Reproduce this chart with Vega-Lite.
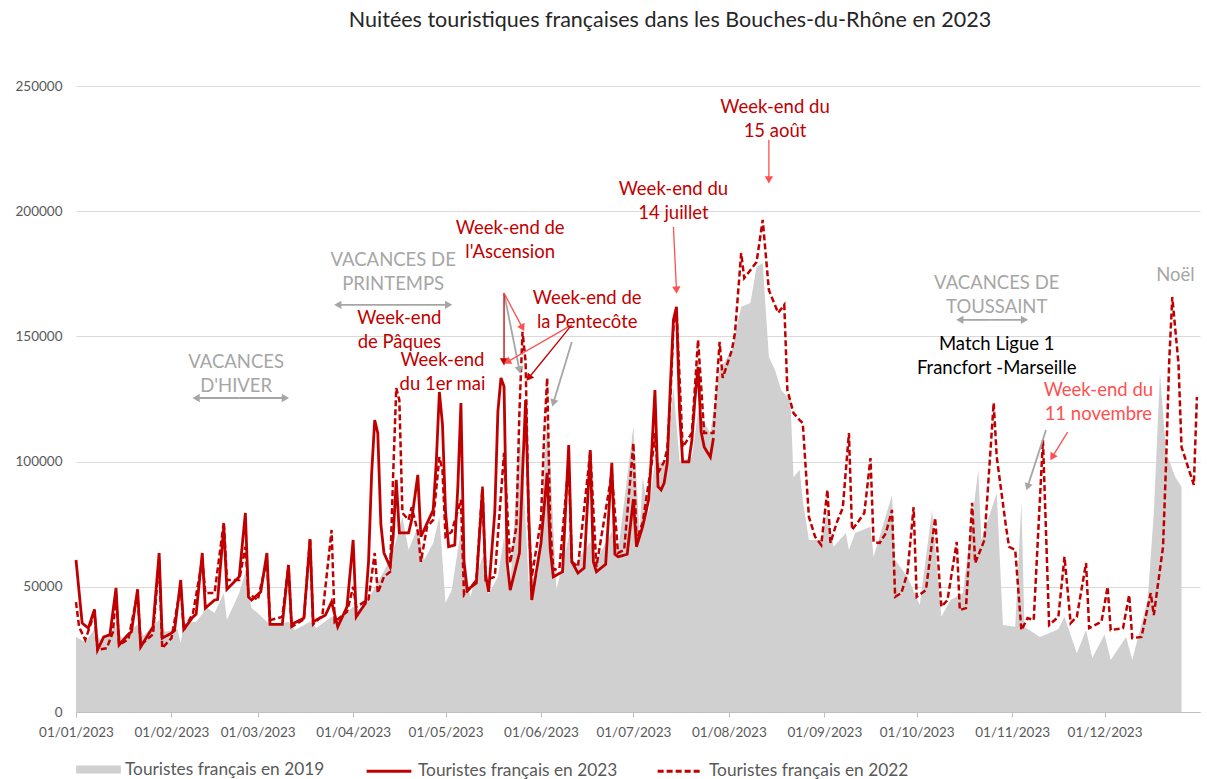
{
  "$schema": "https://vega.github.io/schema/vega-lite/v6.json",
  "width": 1124,
  "height": 626,
  "autosize": {"type": "none"},
  "padding": {"left": 76, "top": 86, "right": 7, "bottom": 67},
  "title": {"text": "Nuitées touristiques françaises dans les Bouches-du-Rhône en 2023", "fontSize": 21.5, "fontWeight": "normal", "color": "#262626", "offset": 48, "dx": 32, "anchor": "middle", "font": "Lato"},
  "datasets": {
    "s2023": [
      {"date":"2023-01-01","value":60700},{"date":"2023-01-03","value":35500},{"date":"2023-01-05","value":33500},{"date":"2023-01-07","value":41000},{"date":"2023-01-08","value":24800},{"date":"2023-01-10","value":30000},{"date":"2023-01-12","value":30800},{"date":"2023-01-14","value":49500},{"date":"2023-01-15","value":26800},{"date":"2023-01-18","value":31000},{"date":"2023-01-19","value":32000},{"date":"2023-01-21","value":49000},{"date":"2023-01-22","value":26000},{"date":"2023-01-26","value":34000},{"date":"2023-01-28","value":63500},{"date":"2023-01-29","value":29500},
      {"date":"2023-02-01","value":31500},{"date":"2023-02-02","value":32500},{"date":"2023-02-04","value":52700},{"date":"2023-02-05","value":33000},{"date":"2023-02-08","value":38000},{"date":"2023-02-09","value":39000},{"date":"2023-02-11","value":63500},{"date":"2023-02-12","value":41500},{"date":"2023-02-15","value":44700},{"date":"2023-02-16","value":45000},{"date":"2023-02-18","value":74000},{"date":"2023-02-19","value":49000},{"date":"2023-02-23","value":54000},{"date":"2023-02-25","value":79500},{"date":"2023-02-26","value":46000},{"date":"2023-02-27","value":44700},
      {"date":"2023-03-02","value":48000},{"date":"2023-03-04","value":63500},{"date":"2023-03-05","value":35000},{"date":"2023-03-09","value":35000},{"date":"2023-03-11","value":58700},{"date":"2023-03-12","value":35000},{"date":"2023-03-16","value":37500},{"date":"2023-03-18","value":69000},{"date":"2023-03-19","value":36000},{"date":"2023-03-23","value":38700},{"date":"2023-03-25","value":44000},{"date":"2023-03-27","value":34000},{"date":"2023-03-30","value":42000},
      {"date":"2023-04-01","value":68700},{"date":"2023-04-02","value":38000},{"date":"2023-04-05","value":43500},{"date":"2023-04-06","value":60000},{"date":"2023-04-07","value":95000},{"date":"2023-04-08","value":116600},{"date":"2023-04-09","value":111400},{"date":"2023-04-10","value":75000},{"date":"2023-04-11","value":63500},{"date":"2023-04-13","value":58000},{"date":"2023-04-14","value":70000},{"date":"2023-04-15","value":92700},{"date":"2023-04-16","value":71500},{"date":"2023-04-19","value":71500},{"date":"2023-04-20","value":76700},{"date":"2023-04-22","value":94700},{"date":"2023-04-23","value":70000},{"date":"2023-04-27","value":80700},{"date":"2023-04-28","value":100000},{"date":"2023-04-29","value":127800},{"date":"2023-04-30","value":115000},
      {"date":"2023-05-01","value":80000},{"date":"2023-05-02","value":66000},{"date":"2023-05-04","value":66700},{"date":"2023-05-05","value":90000},{"date":"2023-05-06","value":123400},{"date":"2023-05-07","value":60000},{"date":"2023-05-08","value":48700},{"date":"2023-05-11","value":51500},{"date":"2023-05-13","value":89000},{"date":"2023-05-14","value":55000},{"date":"2023-05-15","value":48000},{"date":"2023-05-17","value":80000},{"date":"2023-05-18","value":120000},{"date":"2023-05-19","value":133400},{"date":"2023-05-20","value":130000},{"date":"2023-05-21","value":60000},{"date":"2023-05-22","value":48700},{"date":"2023-05-25","value":63500},{"date":"2023-05-26","value":95000},{"date":"2023-05-27","value":124600},{"date":"2023-05-28","value":80000},{"date":"2023-05-29","value":44700},
      {"date":"2023-06-01","value":67500},{"date":"2023-06-03","value":95500},{"date":"2023-06-04","value":65000},{"date":"2023-06-05","value":54000},{"date":"2023-06-08","value":56000},{"date":"2023-06-10","value":106600},{"date":"2023-06-11","value":60000},{"date":"2023-06-13","value":55500},{"date":"2023-06-15","value":57500},{"date":"2023-06-17","value":104600},{"date":"2023-06-18","value":60000},{"date":"2023-06-19","value":56000},{"date":"2023-06-22","value":59000},{"date":"2023-06-24","value":99500},{"date":"2023-06-25","value":63000},{"date":"2023-06-26","value":62000},{"date":"2023-06-29","value":63000},
      {"date":"2023-07-01","value":85000},{"date":"2023-07-02","value":66000},{"date":"2023-07-04","value":74000},{"date":"2023-07-06","value":85000},{"date":"2023-07-07","value":105000},{"date":"2023-07-08","value":128600},{"date":"2023-07-09","value":90000},{"date":"2023-07-10","value":88700},{"date":"2023-07-11","value":91500},{"date":"2023-07-12","value":99500},{"date":"2023-07-13","value":130000},{"date":"2023-07-14","value":156600},{"date":"2023-07-15","value":161800},{"date":"2023-07-16","value":120000},{"date":"2023-07-17","value":99900},{"date":"2023-07-19","value":99900},{"date":"2023-07-20","value":108600},{"date":"2023-07-21","value":125000},{"date":"2023-07-22","value":137800},{"date":"2023-07-23","value":112000},{"date":"2023-07-24","value":105800},{"date":"2023-07-26","value":101800},{"date":"2023-07-27","value":109400}
    ],
    "s2022": [
      {"date":"2023-01-01","value":43900},{"date":"2023-01-02","value":34000},{"date":"2023-01-04","value":28800},{"date":"2023-01-07","value":39500},{"date":"2023-01-08","value":24800},{"date":"2023-01-11","value":25500},{"date":"2023-01-13","value":32000},{"date":"2023-01-14","value":47500},{"date":"2023-01-15","value":26800},{"date":"2023-01-18","value":29000},{"date":"2023-01-21","value":47500},{"date":"2023-01-22","value":26800},{"date":"2023-01-26","value":31000},{"date":"2023-01-28","value":60700},{"date":"2023-01-29","value":25500},
      {"date":"2023-02-01","value":29500},{"date":"2023-02-04","value":50000},{"date":"2023-02-05","value":32700},{"date":"2023-02-08","value":39500},{"date":"2023-02-11","value":60700},{"date":"2023-02-12","value":47500},{"date":"2023-02-15","value":47500},{"date":"2023-02-18","value":75900},{"date":"2023-02-19","value":52700},{"date":"2023-02-23","value":52700},{"date":"2023-02-25","value":66000},{"date":"2023-02-26","value":47500},
      {"date":"2023-03-01","value":44700},{"date":"2023-03-04","value":60700},{"date":"2023-03-05","value":36700},{"date":"2023-03-09","value":38000},{"date":"2023-03-11","value":58700},{"date":"2023-03-12","value":34000},{"date":"2023-03-16","value":37000},{"date":"2023-03-18","value":69500},{"date":"2023-03-19","value":35000},{"date":"2023-03-22","value":38500},{"date":"2023-03-25","value":72700},{"date":"2023-03-26","value":36000},{"date":"2023-03-30","value":40000},
      {"date":"2023-04-01","value":50000},{"date":"2023-04-02","value":42000},{"date":"2023-04-06","value":45000},{"date":"2023-04-08","value":63500},{"date":"2023-04-09","value":47500},{"date":"2023-04-11","value":54000},{"date":"2023-04-13","value":56000},{"date":"2023-04-14","value":95000},{"date":"2023-04-15","value":129400},{"date":"2023-04-16","value":124600},{"date":"2023-04-17","value":79500},{"date":"2023-04-19","value":76700},{"date":"2023-04-20","value":81800},{"date":"2023-04-22","value":72000},{"date":"2023-04-23","value":60000},{"date":"2023-04-25","value":74000},{"date":"2023-04-27","value":76700},{"date":"2023-04-29","value":101800},{"date":"2023-04-30","value":96700},
      {"date":"2023-05-01","value":70000},{"date":"2023-05-03","value":72000},{"date":"2023-05-06","value":84700},{"date":"2023-05-07","value":46700},{"date":"2023-05-09","value":49500},{"date":"2023-05-11","value":52700},{"date":"2023-05-13","value":90000},{"date":"2023-05-14","value":52700},{"date":"2023-05-17","value":54000},{"date":"2023-05-20","value":103500},{"date":"2023-05-22","value":59500},{"date":"2023-05-24","value":74000},{"date":"2023-05-25","value":120000},{"date":"2023-05-26","value":151800},{"date":"2023-05-27","value":140000},{"date":"2023-05-28","value":75000},{"date":"2023-05-29","value":54000},
      {"date":"2023-06-01","value":76700},{"date":"2023-06-02","value":110000},{"date":"2023-06-03","value":133400},{"date":"2023-06-04","value":75000},{"date":"2023-06-05","value":56700},{"date":"2023-06-07","value":57500},{"date":"2023-06-10","value":100000},{"date":"2023-06-11","value":60000},{"date":"2023-06-13","value":58000},{"date":"2023-06-17","value":104000},{"date":"2023-06-19","value":58000},{"date":"2023-06-24","value":95500},{"date":"2023-06-26","value":63500},{"date":"2023-06-28","value":64700},
      {"date":"2023-07-01","value":107400},{"date":"2023-07-02","value":68700},{"date":"2023-07-04","value":75500},{"date":"2023-07-07","value":100000},{"date":"2023-07-08","value":111400},{"date":"2023-07-09","value":95500},{"date":"2023-07-11","value":100000},{"date":"2023-07-12","value":105000},{"date":"2023-07-13","value":125000},{"date":"2023-07-14","value":153800},{"date":"2023-07-15","value":160600},{"date":"2023-07-17","value":105800},{"date":"2023-07-20","value":111400},{"date":"2023-07-22","value":148600},{"date":"2023-07-24","value":111400},{"date":"2023-07-27","value":111400},{"date":"2023-07-29","value":147800},{"date":"2023-07-30","value":133400},
      {"date":"2023-08-02","value":144600},{"date":"2023-08-03","value":151400},{"date":"2023-08-05","value":183300},{"date":"2023-08-06","value":173300},{"date":"2023-08-10","value":179700},{"date":"2023-08-12","value":196500},{"date":"2023-08-14","value":168500},{"date":"2023-08-17","value":159400},{"date":"2023-08-19","value":162600},{"date":"2023-08-20","value":128600},{"date":"2023-08-22","value":119400},{"date":"2023-08-24","value":116600},{"date":"2023-08-25","value":115400},{"date":"2023-08-27","value":77900},{"date":"2023-08-29","value":70000},{"date":"2023-08-31","value":66700},
      {"date":"2023-09-02","value":88700},{"date":"2023-09-03","value":67500},{"date":"2023-09-05","value":75500},{"date":"2023-09-07","value":81500},{"date":"2023-09-09","value":111400},{"date":"2023-09-10","value":72700},{"date":"2023-09-12","value":76000},{"date":"2023-09-14","value":79500},{"date":"2023-09-16","value":101400},{"date":"2023-09-17","value":67900},{"date":"2023-09-19","value":67500},{"date":"2023-09-21","value":71500},{"date":"2023-09-23","value":80700},{"date":"2023-09-24","value":46000},{"date":"2023-09-26","value":47500},{"date":"2023-09-28","value":55500},{"date":"2023-09-30","value":81800},
      {"date":"2023-10-01","value":46000},{"date":"2023-10-04","value":48700},{"date":"2023-10-07","value":77500},{"date":"2023-10-09","value":42000},{"date":"2023-10-11","value":44700},{"date":"2023-10-14","value":67900},{"date":"2023-10-15","value":40700},{"date":"2023-10-17","value":41500},{"date":"2023-10-19","value":83500},{"date":"2023-10-20","value":59500},{"date":"2023-10-23","value":68700},{"date":"2023-10-26","value":123400},{"date":"2023-10-27","value":101800},{"date":"2023-10-30","value":74000},{"date":"2023-10-31","value":66000},
      {"date":"2023-11-02","value":64700},{"date":"2023-11-04","value":32700},{"date":"2023-11-06","value":37500},{"date":"2023-11-08","value":36700},{"date":"2023-11-11","value":108600},{"date":"2023-11-13","value":34700},{"date":"2023-11-16","value":38000},{"date":"2023-11-18","value":62000},{"date":"2023-11-20","value":35500},{"date":"2023-11-22","value":38000},{"date":"2023-11-25","value":59500},{"date":"2023-11-26","value":33500},{"date":"2023-11-30","value":36000},
      {"date":"2023-12-02","value":50000},{"date":"2023-12-03","value":32700},{"date":"2023-12-07","value":33500},{"date":"2023-12-09","value":46700},{"date":"2023-12-10","value":29500},{"date":"2023-12-13","value":30000},{"date":"2023-12-16","value":47500},{"date":"2023-12-17","value":38700},{"date":"2023-12-20","value":66000},{"date":"2023-12-21","value":100000},{"date":"2023-12-22","value":140000},{"date":"2023-12-23","value":165700},{"date":"2023-12-25","value":139400},{"date":"2023-12-26","value":105800},{"date":"2023-12-30","value":90700},{"date":"2023-12-31","value":125800}
    ],
    "s2019": [
      {"date":"2023-01-01","value":30000},{"date":"2023-01-04","value":28000},{"date":"2023-01-07","value":33000},{"date":"2023-01-09","value":28500},{"date":"2023-01-14","value":34000},{"date":"2023-01-16","value":29500},{"date":"2023-01-21","value":35000},{"date":"2023-01-23","value":30500},{"date":"2023-01-28","value":37000},{"date":"2023-01-30","value":32000},
      {"date":"2023-02-03","value":33000},{"date":"2023-02-04","value":27500},{"date":"2023-02-05","value":35500},{"date":"2023-02-09","value":36000},{"date":"2023-02-11","value":39000},{"date":"2023-02-12","value":42000},{"date":"2023-02-15","value":39500},{"date":"2023-02-18","value":47500},{"date":"2023-02-19","value":36700},{"date":"2023-02-23","value":47500},{"date":"2023-02-25","value":56000},{"date":"2023-02-27","value":41500},
      {"date":"2023-03-01","value":39500},{"date":"2023-03-04","value":36000},{"date":"2023-03-06","value":34700},{"date":"2023-03-11","value":36000},{"date":"2023-03-13","value":32700},{"date":"2023-03-18","value":36000},{"date":"2023-03-20","value":33500},{"date":"2023-03-25","value":38000},{"date":"2023-03-27","value":36700},
      {"date":"2023-04-01","value":42000},{"date":"2023-04-03","value":40700},{"date":"2023-04-07","value":47500},{"date":"2023-04-13","value":60700},{"date":"2023-04-15","value":68700},{"date":"2023-04-17","value":77900},{"date":"2023-04-19","value":64700},{"date":"2023-04-22","value":74000},{"date":"2023-04-24","value":60700},{"date":"2023-04-27","value":67500},{"date":"2023-04-29","value":77900},
      {"date":"2023-05-01","value":43500},{"date":"2023-05-03","value":48700},{"date":"2023-05-06","value":72700},{"date":"2023-05-09","value":46000},{"date":"2023-05-13","value":62000},{"date":"2023-05-15","value":47000},{"date":"2023-05-18","value":54000},{"date":"2023-05-20","value":70000},{"date":"2023-05-22","value":50000},{"date":"2023-05-25","value":110000},{"date":"2023-05-26","value":100000},{"date":"2023-05-28","value":52000},{"date":"2023-05-31","value":55000},
      {"date":"2023-06-03","value":118000},{"date":"2023-06-04","value":100000},{"date":"2023-06-06","value":48700},{"date":"2023-06-10","value":70000},{"date":"2023-06-12","value":58000},{"date":"2023-06-13","value":60700},{"date":"2023-06-17","value":68000},{"date":"2023-06-19","value":60700},{"date":"2023-06-24","value":72000},{"date":"2023-06-26","value":64000},
      {"date":"2023-07-01","value":114000},{"date":"2023-07-03","value":71500},{"date":"2023-07-04","value":93800},{"date":"2023-07-06","value":79500},{"date":"2023-07-08","value":100600},{"date":"2023-07-10","value":99500},{"date":"2023-07-12","value":100600},{"date":"2023-07-14","value":130000},{"date":"2023-07-16","value":100000},{"date":"2023-07-20","value":101800},{"date":"2023-07-22","value":120000},{"date":"2023-07-26","value":111400},{"date":"2023-07-29","value":136600},
      {"date":"2023-08-02","value":144600},{"date":"2023-08-05","value":161800},{"date":"2023-08-08","value":163300},{"date":"2023-08-10","value":177700},{"date":"2023-08-12","value":179300},{"date":"2023-08-14","value":141800},{"date":"2023-08-16","value":136600},{"date":"2023-08-18","value":128600},{"date":"2023-08-21","value":124600},{"date":"2023-08-22","value":93800},{"date":"2023-08-24","value":96700},{"date":"2023-08-25","value":84700},{"date":"2023-08-27","value":68700},{"date":"2023-08-31","value":68700},
      {"date":"2023-09-02","value":80000},{"date":"2023-09-04","value":66000},{"date":"2023-09-08","value":71500},{"date":"2023-09-09","value":64700},{"date":"2023-09-11","value":71500},{"date":"2023-09-16","value":74000},{"date":"2023-09-17","value":62000},{"date":"2023-09-23","value":86700},{"date":"2023-09-24","value":60700},{"date":"2023-09-28","value":54000},
      {"date":"2023-10-02","value":42700},{"date":"2023-10-06","value":80700},{"date":"2023-10-09","value":38000},{"date":"2023-10-12","value":44700},{"date":"2023-10-16","value":47500},{"date":"2023-10-21","value":96700},{"date":"2023-10-22","value":68700},{"date":"2023-10-27","value":87500},{"date":"2023-10-29","value":34700},
      {"date":"2023-11-02","value":34000},{"date":"2023-11-04","value":83900},{"date":"2023-11-05","value":34000},{"date":"2023-11-10","value":30000},{"date":"2023-11-16","value":33000},{"date":"2023-11-18","value":38000},{"date":"2023-11-22","value":23500},{"date":"2023-11-25","value":32700},{"date":"2023-11-27","value":21600},
      {"date":"2023-12-01","value":31000},{"date":"2023-12-03","value":20800},{"date":"2023-12-08","value":30000},{"date":"2023-12-10","value":20800},{"date":"2023-12-15","value":44700},{"date":"2023-12-17","value":79500},{"date":"2023-12-19","value":135400},{"date":"2023-12-21","value":103500},{"date":"2023-12-24","value":93800},{"date":"2023-12-26","value":90000}
    ],
    "notes": [
      {"date":"2023-02-22","value":139800,"text":"VACANCES\nD'HIVER","kind":"gris"},
      {"date":"2023-04-14","value":180500,"text":"VACANCES DE\nPRINTEMPS","kind":"gris"},
      {"date":"2023-04-16","value":157400,"text":"Week-end\nde Pâques","kind":"rouge"},
      {"date":"2023-04-30","value":140600,"text":"Week-end\ndu 1er mai","kind":"rouge"},
      {"date":"2023-05-22","value":193300,"text":"Week-end de\nl'Ascension","kind":"rouge"},
      {"date":"2023-06-16","value":165400,"text":"Week-end de\nla Pentecôte","kind":"rouge"},
      {"date":"2023-07-14","value":208900,"text":"Week-end du\n14 juillet","kind":"rouge"},
      {"date":"2023-08-16","value":241600,"text":"Week-end du\n15 août","kind":"rouge"},
      {"date":"2023-10-27","value":171300,"text":"VACANCES DE\nTOUSSAINT","kind":"gris"},
      {"date":"2023-10-27","value":147000,"text":"Match Ligue 1\nFrancfort -Marseille","kind":"noir"},
      {"date":"2023-11-29","value":128600,"text":"Week-end du\n11 novembre","kind":"rose"},
      {"date":"2023-12-24","value":174500,"text":"Noël","kind":"gris"}
    ],
    "arrows": [
      {"d0":"2023-02-23","v0":125400,"d1":"2023-02-09","v1":125400,"kind":"gris"},
      {"d0":"2023-02-23","v0":125400,"d1":"2023-03-10","v1":125400,"kind":"gris"},
      {"d0":"2023-04-14","v0":162600,"d1":"2023-03-27","v1":162600,"kind":"gris"},
      {"d0":"2023-04-14","v0":162600,"d1":"2023-05-02","v1":162600,"kind":"gris"},
      {"d0":"2023-10-25","v0":156600,"d1":"2023-10-15","v1":156600,"kind":"gris"},
      {"d0":"2023-10-25","v0":156600,"d1":"2023-11-05","v1":156600,"kind":"gris"},
      {"d0":"2023-07-14","v0":193700,"d1":"2023-07-15","v1":168500,"kind":"rose"},
      {"d0":"2023-08-14","v0":228500,"d1":"2023-08-14","v1":212500,"kind":"rose"},
      {"d0":"2023-05-20","v0":167300,"d1":"2023-05-20","v1":139800,"kind":"rouge"},
      {"d0":"2023-05-20","v0":167300,"d1":"2023-05-26","v1":153400,"kind":"rose"},
      {"d0":"2023-05-20","v0":167300,"d1":"2023-05-25","v1":136600,"kind":"gris"},
      {"d0":"2023-06-11","v0":154600,"d1":"2023-05-21","v1":139800,"kind":"rose"},
      {"d0":"2023-06-11","v0":154600,"d1":"2023-05-28","v1":133400,"kind":"rouge"},
      {"d0":"2023-06-11","v0":147800,"d1":"2023-06-05","v1":123400,"kind":"gris"},
      {"d0":"2023-11-19","v0":111800,"d1":"2023-11-14","v1":101800,"kind":"rose"},
      {"d0":"2023-11-12","v0":112600,"d1":"2023-11-06","v1":89900,"kind":"gris"}
    ]
  },
  "layer": [
    {
      "data": {"name": "s2019"},
      "mark": {"type": "area", "opacity": 1},
      "encoding": {
        "x": {"field": "date", "type": "temporal", "title": null,
          "scale": {"type": "utc", "domain": [{"year": 2023, "month": 1, "date": 1, "utc": true}, {"year": 2024, "month": 1, "date": 1, "utc": true}]},
          "axis": {"format": "%d/%m/%Y", "values": [
            {"year": 2023, "month": 1, "date": 1, "utc": true}, {"year": 2023, "month": 2, "date": 1, "utc": true}, {"year": 2023, "month": 3, "date": 1, "utc": true},
            {"year": 2023, "month": 4, "date": 1, "utc": true}, {"year": 2023, "month": 5, "date": 1, "utc": true}, {"year": 2023, "month": 6, "date": 1, "utc": true},
            {"year": 2023, "month": 7, "date": 1, "utc": true}, {"year": 2023, "month": 8, "date": 1, "utc": true}, {"year": 2023, "month": 9, "date": 1, "utc": true},
            {"year": 2023, "month": 10, "date": 1, "utc": true}, {"year": 2023, "month": 11, "date": 1, "utc": true}, {"year": 2023, "month": 12, "date": 1, "utc": true}]}},
        "y": {"field": "value", "type": "quantitative", "title": null,
          "scale": {"domain": [0, 250000], "nice": false},
          "axis": {"values": [0, 50000, 100000, 150000, 200000, 250000], "format": "d"}},
        "fill": {"datum": "Touristes français en 2019", "type": "nominal",
          "scale": {"domain": ["Touristes français en 2019"], "range": ["#d0d0d0"]},
          "legend": {
            "orient": "bottom", "direction": "horizontal", "title": null,
            "labelFontSize": 17.3, "labelColor": "#595959", "labelFont": "Lato", "labelLimit": 400,
            "symbolType": "M-1,-0.18H1V0.18H-1Z", "symbolSize": 2000, "symbolStrokeWidth": 0, "labelOffset": 4, "offset": 8, "padding": 0}}
      }
    },
    {
      "data": {"name": "s2022"},
      "mark": {"type": "line", "strokeWidth": 2.5},
      "encoding": {
        "x": {"field": "date", "type": "temporal", "title": null},
        "y": {"field": "value", "type": "quantitative", "title": null},
        "stroke": {"datum": "Touristes français en 2022", "type": "nominal",
          "scale": {"domain": ["Touristes français en 2023", "Touristes français en 2022"], "range": ["#c00000", "#c00000"]},
          "legend": {
            "orient": "bottom", "direction": "horizontal", "title": null,
            "labelFontSize": 17.3, "labelColor": "#595959", "labelFont": "Lato", "labelLimit": 400,
            "symbolType": "stroke", "symbolSize": 2000, "symbolStrokeWidth": 3, "labelOffset": 5, "columnPadding": 33, "offset": 8, "padding": 0}},
        "strokeDash": {"datum": "Touristes français en 2022", "type": "nominal",
          "scale": {"domain": ["Touristes français en 2023", "Touristes français en 2022"], "range": [[1, 0], [6, 3]]}}
      }
    },
    {
      "data": {"name": "s2023"},
      "mark": {"type": "line", "strokeWidth": 2.8},
      "encoding": {
        "x": {"field": "date", "type": "temporal", "title": null},
        "y": {"field": "value", "type": "quantitative", "title": null},
        "stroke": {"datum": "Touristes français en 2023", "type": "nominal"},
        "strokeDash": {"datum": "Touristes français en 2023", "type": "nominal"}
      }
    },
    {
      "data": {"name": "arrows"},
      "transform": [{"filter": "datum.kind === 'gris'"}],
      "mark": {"type": "rule", "color": "#a6a6a6", "strokeWidth": 1.8},
      "encoding": {
        "x": {"field": "d0", "type": "temporal", "title": null}, "x2": {"field": "d1"},
        "y": {"field": "v0", "type": "quantitative", "title": null}, "y2": {"field": "v1"}
      }
    },
    {
      "data": {"name": "arrows"},
      "transform": [{"filter": "datum.kind === 'rouge'"}],
      "mark": {"type": "rule", "color": "#c00000", "strokeWidth": 1.3},
      "encoding": {
        "x": {"field": "d0", "type": "temporal", "title": null}, "x2": {"field": "d1"},
        "y": {"field": "v0", "type": "quantitative", "title": null}, "y2": {"field": "v1"}
      }
    },
    {
      "data": {"name": "arrows"},
      "transform": [{"filter": "datum.kind === 'rose'"}],
      "mark": {"type": "rule", "color": "#ff5050", "strokeWidth": 1.3},
      "encoding": {
        "x": {"field": "d0", "type": "temporal", "title": null}, "x2": {"field": "d1"},
        "y": {"field": "v0", "type": "quantitative", "title": null}, "y2": {"field": "v1"}
      }
    },
    {
      "data": {"name": "arrows"},
      "transform": [{"filter": "datum.kind === 'gris'"}],
      "mark": {"type": "point", "shape": "triangle-up", "filled": true, "opacity": 1, "size": 70, "color": "#a6a6a6",
        "angle": {"expr": "atan2(scale('x', datum.d1) - scale('x', toDate(datum.d0)), scale('y', datum.v0) - scale('y', datum.v1)) * 180 / PI"}},
      "encoding": {
        "x": {"field": "d1", "type": "temporal", "title": null},
        "y": {"field": "v1", "type": "quantitative", "title": null}
      }
    },
    {
      "data": {"name": "arrows"},
      "transform": [{"filter": "datum.kind === 'rouge'"}],
      "mark": {"type": "point", "shape": "triangle-up", "filled": true, "opacity": 1, "size": 70, "color": "#c00000",
        "angle": {"expr": "atan2(scale('x', datum.d1) - scale('x', toDate(datum.d0)), scale('y', datum.v0) - scale('y', datum.v1)) * 180 / PI"}},
      "encoding": {
        "x": {"field": "d1", "type": "temporal", "title": null},
        "y": {"field": "v1", "type": "quantitative", "title": null}
      }
    },
    {
      "data": {"name": "arrows"},
      "transform": [{"filter": "datum.kind === 'rose'"}],
      "mark": {"type": "point", "shape": "triangle-up", "filled": true, "opacity": 1, "size": 70, "color": "#ff5050",
        "angle": {"expr": "atan2(scale('x', datum.d1) - scale('x', toDate(datum.d0)), scale('y', datum.v0) - scale('y', datum.v1)) * 180 / PI"}},
      "encoding": {
        "x": {"field": "d1", "type": "temporal", "title": null},
        "y": {"field": "v1", "type": "quantitative", "title": null}
      }
    },
    {
      "data": {"name": "notes"},
      "transform": [{"filter": "datum.kind === 'gris'"}],
      "mark": {"type": "text", "color": "#a6a6a6", "fontSize": 18.5, "lineHeight": 24, "lineBreak": "\n", "align": "center", "baseline": "middle", "font": "Lato"},
      "encoding": {
        "x": {"field": "date", "type": "temporal", "title": null},
        "y": {"field": "value", "type": "quantitative", "title": null},
        "text": {"field": "text"}
      }
    },
    {
      "data": {"name": "notes"},
      "transform": [{"filter": "datum.kind === 'rouge'"}],
      "mark": {"type": "text", "color": "#c00000", "fontSize": 18.5, "lineHeight": 24, "lineBreak": "\n", "align": "center", "baseline": "middle", "font": "Lato"},
      "encoding": {
        "x": {"field": "date", "type": "temporal", "title": null},
        "y": {"field": "value", "type": "quantitative", "title": null},
        "text": {"field": "text"}
      }
    },
    {
      "data": {"name": "notes"},
      "transform": [{"filter": "datum.kind === 'rose'"}],
      "mark": {"type": "text", "color": "#ff5050", "fontSize": 18.5, "lineHeight": 24, "lineBreak": "\n", "align": "center", "baseline": "middle", "font": "Lato"},
      "encoding": {
        "x": {"field": "date", "type": "temporal", "title": null},
        "y": {"field": "value", "type": "quantitative", "title": null},
        "text": {"field": "text"}
      }
    },
    {
      "data": {"name": "notes"},
      "transform": [{"filter": "datum.kind === 'noir'"}],
      "mark": {"type": "text", "color": "#000000", "fontSize": 18.5, "lineHeight": 24, "lineBreak": "\n", "align": "center", "baseline": "middle", "font": "Lato"},
      "encoding": {
        "x": {"field": "date", "type": "temporal", "title": null},
        "y": {"field": "value", "type": "quantitative", "title": null},
        "text": {"field": "text"}
      }
    }
  ],
  "config": {
    "view": {"stroke": null},
    "font": "Lato",
    "legend": {"layout": {"bottom": {"anchor": "start", "margin": 40}}},
    "axisX": {"domainColor": "#bfbfbf", "tickColor": "#bfbfbf", "tickSize": 5, "labelFontSize": 13.5, "labelColor": "#595959", "labelPadding": 8, "grid": false, "labelFlush": false, "labelOverlap": false, "labelBound": false, "labelFont": "Lato"},
    "axisY": {"domain": false, "ticks": false, "gridColor": "#d9d9d9", "labelPadding": 14, "labelFontSize": 13.5, "labelColor": "#595959", "labelFont": "Lato"}
  }
}
